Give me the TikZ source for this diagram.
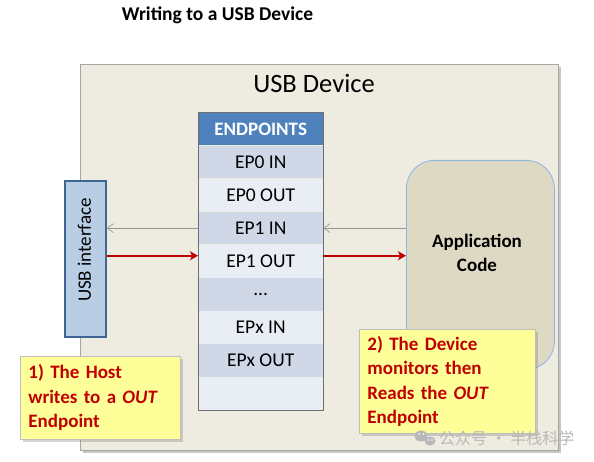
\documentclass[tikz,border=0pt]{standalone}
\usepackage{fontspec}
\setmainfont{Carlito}
\newfontfamily\cjk{Noto Sans CJK SC}
\usetikzlibrary{arrows.meta,shadows,calc}
\definecolor{devfill}{HTML}{EEECE1}
\definecolor{devdraw}{HTML}{A6A6A6}
\definecolor{hdrfill}{HTML}{4F81BD}
\definecolor{rowdark}{HTML}{D0D8E8}
\definecolor{rowlight}{HTML}{E9EDF4}
\definecolor{tabdraw}{HTML}{6E6E6E}
\definecolor{usbfill}{HTML}{B9CDE5}
\definecolor{usbdraw}{HTML}{3F6594}
\definecolor{appfill}{HTML}{DDD9C3}
\definecolor{appdraw}{HTML}{8EB4E3}
\definecolor{notefill}{HTML}{FFFF99}
\definecolor{notedraw}{HTML}{BFBFBF}
\definecolor{notetext}{HTML}{C00000}
\definecolor{arrred}{HTML}{C00000}
\definecolor{arrgray}{HTML}{969696}
\definecolor{wmgray}{HTML}{B8B8B8}
\tikzset{
  devbox/.style={draw=devdraw, line width=1pt, fill=devfill, inner sep=0pt,
    drop shadow={shadow xshift=2.5pt, shadow yshift=-2.5pt, opacity=0.45}},
  rowbox/.style={inner sep=0pt, minimum width=125pt, minimum height=32.7pt,
    font=\fontsize{19.5}{21}\selectfont},
  hdrbox/.style={inner sep=0pt, minimum width=125pt, minimum height=32pt, fill=hdrfill,
    text=white, font=\fontsize{19}{21}\selectfont\bfseries},
  usbbox/.style={draw=usbdraw, line width=1.8pt, fill=usbfill, inner sep=0pt},
  appbox/.style={draw=appdraw, line width=0.8pt, fill=appfill, inner sep=0pt, rounded corners=28pt},
  notebox/.style={draw=notedraw, line width=0.8pt, fill=notefill, inner xsep=8pt, inner ysep=0pt,
    align=left, text=notetext, font=\fontsize{19}{24.5}\selectfont\bfseries,
    drop shadow={shadow xshift=3pt, shadow yshift=-3pt, opacity=0.35}},
  grayarrow/.style={draw=arrgray, line width=1.1pt, -{Straight Barb[length=6pt,width=9pt,line width=0.7pt]}},
  redarrow/.style={draw=arrred, line width=2.4pt, -{Stealth[length=8pt,width=9pt,inset=2pt]}},
}
\begin{document}
\begin{tikzpicture}[x=1pt,y=-1pt]
\useasboundingbox (0,0) rectangle (594,462);
% title
\node[font=\fontsize{19.5}{22}\selectfont\bfseries] (title) at (217.5,15) {Writing to a USB Device};
% device
\node[devbox, minimum width=478pt, minimum height=386pt, anchor=north west] (dev) at (80,64) {};
\node[font=\fontsize{26.5}{30}\selectfont] (devlabel) at (314,83) {USB Device};
% endpoints table
\node[hdrbox, anchor=north west] (hdr) at (198,113) {ENDPOINTS};
\node[rowbox, fill=rowdark,  anchor=north] (r1) at (hdr.south) {EP0 IN};
\node[rowbox, fill=rowlight, anchor=north] (r2) at (r1.south) {EP0 OUT};
\node[rowbox, fill=rowdark,  anchor=north] (r3) at (r2.south) {EP1 IN};
\node[rowbox, fill=rowlight, anchor=north] (r4) at (r3.south) {EP1 OUT};
\node[rowbox, fill=rowdark,  anchor=north] (r5) at (r4.south) {...};
\node[rowbox, fill=rowlight, anchor=north] (r6) at (r5.south) {EPx IN};
\node[rowbox, fill=rowdark,  anchor=north] (r7) at (r6.south) {EPx OUT};
\node[rowbox, fill=rowlight, anchor=north] (r8) at (r7.south) {};
\draw[tabdraw, line width=1pt] (hdr.north west) rectangle (r8.south east);
% USB interface
\node[usbbox, minimum width=41pt, minimum height=156pt, anchor=north west] (usb) at (64,180) {};
\node[font=\fontsize{19}{20}\selectfont, rotate=90] (usbtext) at (84.5,250) {USB interface};
% application code
\node[appbox, minimum width=148pt, minimum height=209pt, anchor=north west] (app) at (406,160) {};
\node[font=\fontsize{19}{24}\selectfont\bfseries, align=center] (apptext) at (477,253) {Application\\Code};
% connectors
\draw[grayarrow] (r3.west) -- (usb.east |- r3.west);
\draw[redarrow] ($(usb.east |- r4.west)+(0,-5.5)$) -- ($(r4.west)+(0,-5.5)$);
\draw[grayarrow] (app.west |- r3.east) -- (r3.east);
\draw[redarrow] ($(r4.east)+(0,-5.5)$) -- ($(app.west |- r4.east)+(0,-5.5)$);
% notes
\node[notebox, text width=144pt, minimum height=83pt, anchor=north west] (note1) at (20,356)
  {1) The Host\\writes to a \textit{OUT}\\Endpoint};
\node[notebox, text width=160pt, minimum height=104pt, anchor=north west] (note2) at (359,329)
  {2) The Device\\monitors then\\Reads the \textit{OUT}\\Endpoint};
% watermark
\fill[wmgray] (421,436) ellipse (6.5 and 5.5);
\fill[wmgray] (430,441) ellipse (5.5 and 4.5);
\fill[white] (419,434) circle (0.9) (423.5,434) circle (0.9) (428.5,440) circle (0.8) (432,440) circle (0.8);
\node[font=\cjk\fontsize{16}{18}\selectfont, text=wmgray, anchor=west, inner sep=0pt] (wm) at (439,438) {公众号 · 半栈科学};
\end{tikzpicture}
\end{document}
